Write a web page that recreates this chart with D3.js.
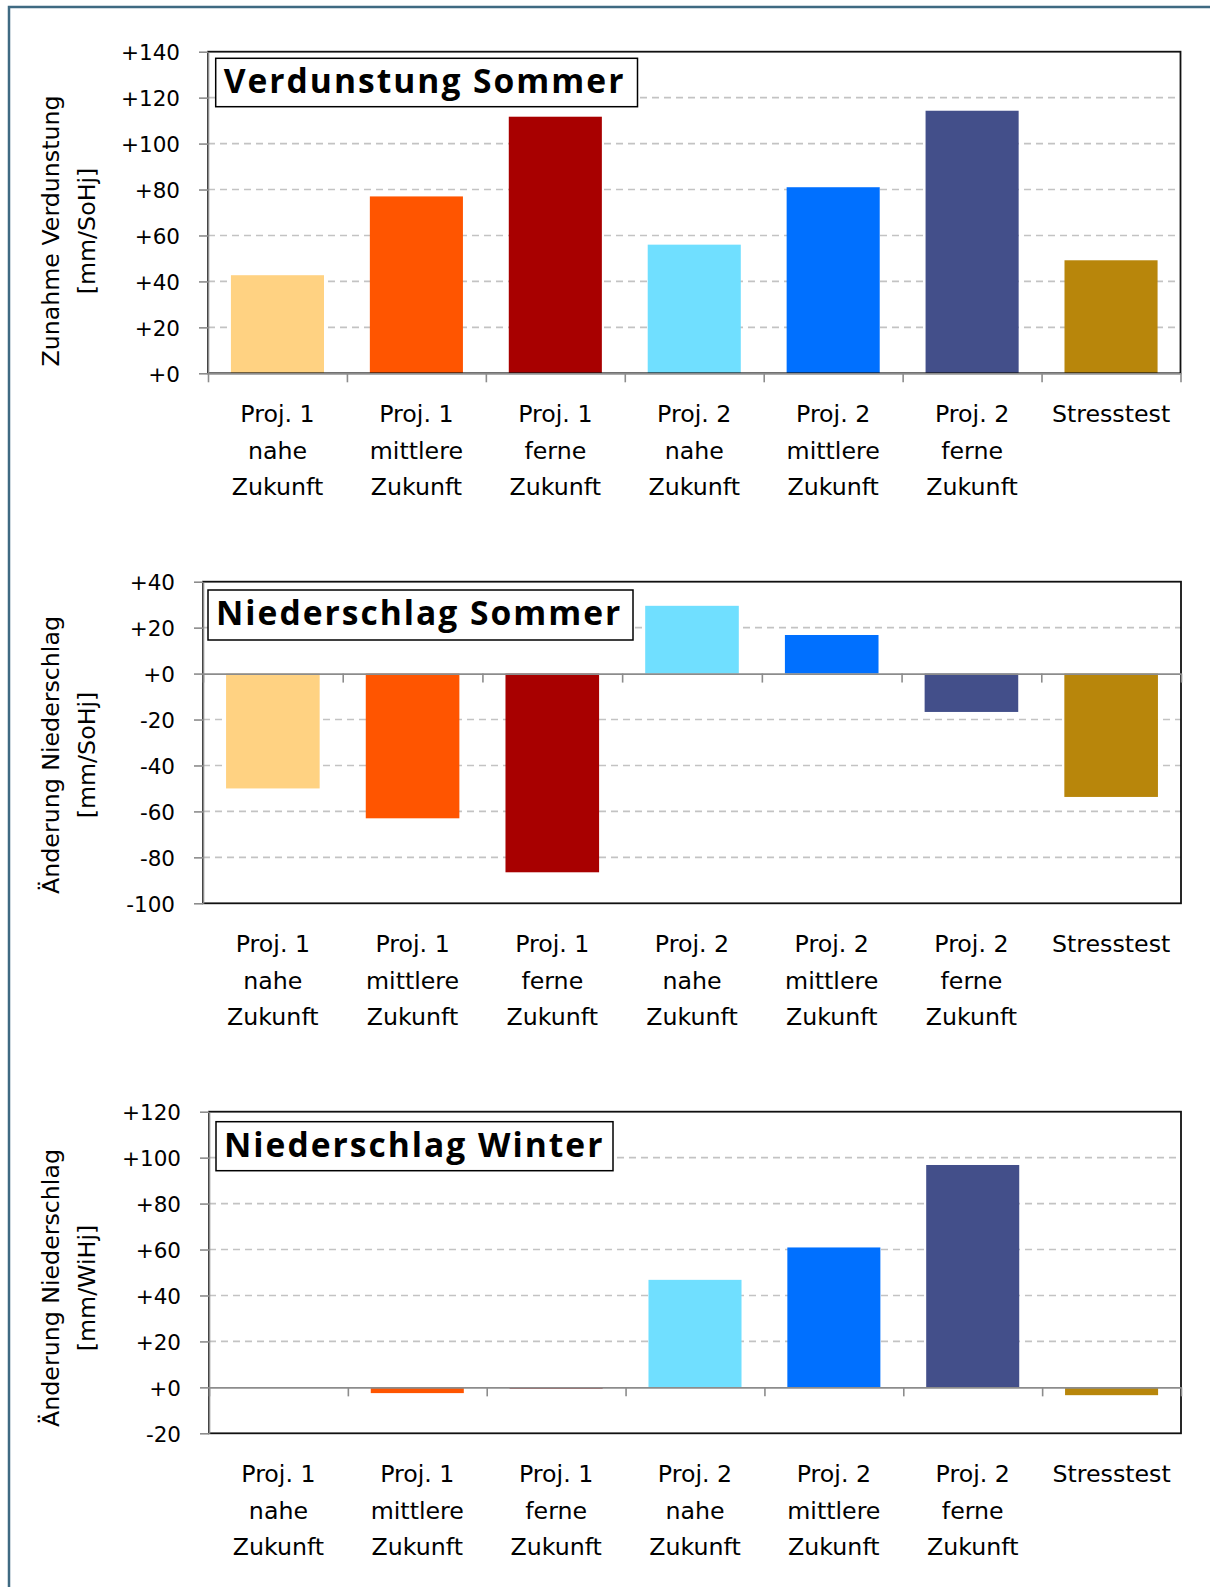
<!DOCTYPE html>
<html>
<head>
<meta charset="utf-8">
<script src="https://cdn.jsdelivr.net/npm/d3@7"></script>
<style>
  html, body { margin: 0; padding: 0; background: #fff; overflow: hidden; }
</style>
</head>
<body>
<script>
// categories (x axis, one line per array entry)
const categories = [
    ["Proj. 1", "nahe", "Zukunft"],
    ["Proj. 1", "mittlere", "Zukunft"],
    ["Proj. 1", "ferne", "Zukunft"],
    ["Proj. 2", "nahe", "Zukunft"],
    ["Proj. 2", "mittlere", "Zukunft"],
    ["Proj. 2", "ferne", "Zukunft"],
    ["Stresstest"]
];
const colors = ["#ffd282", "#ff5500", "#a80000", "#70dfff", "#0070ff", "#434f8a", "#b8860b"];

// series values
const verdunstungSommer = [42.7, 77, 111.7, 56, 81, 114.3, 49.2];
const niederschlagSommer = [-50, -63, -86.5, 29.5, 16.8, -16.7, -53.7];
const niederschlagWinter = [0, -2.5, -0.6, 46.8, 60.9, 96.8, -3.4];

// tick values
const ticksVerdunstung = [0, 20, 40, 60, 80, 100, 120, 140];
const ticksNsSommer = [-100, -80, -60, -40, -20, 0, 20, 40];
const ticksNsWinter = [-20, 0, 20, 40, 60, 80, 100, 120];

const width = 1210, height = 1587;
const svg = d3.select("body").append("svg")
    .attr("width", width)
    .attr("height", height);

// outer frame (left + top edges only visible)
svg.append("path")
    .attr("d", `M9,${height} V7 H${width}`)
    .attr("fill", "none")
    .attr("stroke", "#3f6a82")
    .attr("stroke-width", 2.5);

const charts = [
    {
        title: "Verdunstung Sommer", yTitle: ["Zunahme Verdunstung", "[mm/SoHj]"],
        values: verdunstungSommer, ticks: ticksVerdunstung, domain: [0, 140],
        left: 208, right: 1180.5, top: 51.7, bottom: 373.3,
        titleBox: {x: 215.7, y: 58.3, w: 421.8, h: 48.4}, yTitleCenter: 231
    },
    {
        title: "Niederschlag Sommer", yTitle: ["Änderung Niederschlag", "[mm/SoHj]"],
        values: niederschlagSommer, ticks: ticksNsSommer, domain: [-100, 40],
        left: 203, right: 1181, top: 581.7, bottom: 903.3,
        titleBox: {x: 208, y: 590, w: 425, h: 50}, yTitleCenter: 755
    },
    {
        title: "Niederschlag Winter", yTitle: ["Änderung Niederschlag", "[mm/WiHj]"],
        values: niederschlagWinter, ticks: ticksNsWinter, domain: [-20, 120],
        left: 209, right: 1181, top: 1111.7, bottom: 1433.3,
        titleBox: {x: 216, y: 1121.7, w: 397, h: 49}, yTitleCenter: 1288
    }
];

const fmt = d => (d > 0 || d === 0 ? "+" : "") + d;
const font = "'DejaVu Sans', sans-serif";

charts.forEach(drawChart);

function drawChart(c) {
    const y = d3.scaleLinear().domain(c.domain).range([c.bottom, c.top]);
    const x = d3.scaleBand()
        .domain(d3.range(categories.length))
        .range([c.left, c.right])
        .paddingInner(0.33)
        .paddingOuter(0.165);
    const xb = d3.scaleLinear().domain([0, categories.length]).range([c.left, c.right]);

    const g = svg.append("g");

    // dashed gridlines
    g.append("g")
        .selectAll("line")
        .data(c.ticks.filter(t => t !== 0 && t !== c.domain[0] && t !== c.domain[1]))
        .join("line")
        .attr("x1", c.left).attr("x2", c.right)
        .attr("y1", d => y(d)).attr("y2", d => y(d))
        .attr("stroke", "#c3c3c3")
        .attr("stroke-width", 1.6)
        .attr("stroke-dasharray", "7,5");

    // bars
    g.append("g")
        .selectAll("rect")
        .data(c.values)
        .join("rect")
        .attr("x", (d, i) => x(i))
        .attr("width", x.bandwidth())
        .attr("y", d => y(Math.max(0, d)))
        .attr("height", d => Math.abs(y(d) - y(0)))
        .attr("fill", (d, i) => colors[i]);

    // plot area border
    g.append("rect")
        .attr("x", c.left).attr("y", c.top)
        .attr("width", c.right - c.left).attr("height", c.bottom - c.top)
        .attr("fill", "none")
        .attr("stroke", "#111")
        .attr("stroke-width", 1.8);

    // y axis
    const yAxis = g.append("g")
        .attr("transform", `translate(${c.left},0)`)
        .call(d3.axisLeft(y).tickValues(c.ticks).tickSize(9).tickSizeOuter(0).tickPadding(19).tickFormat(fmt));
    yAxis.select(".domain").attr("stroke", "#8c8c8c").attr("stroke-width", 1.6);
    yAxis.selectAll(".tick line").attr("stroke", "#8c8c8c").attr("stroke-width", 1.6);
    yAxis.selectAll(".tick text")
        .attr("font-family", font)
        .attr("font-size", 21.5)
        .attr("fill", "#000")
        .attr("dy", "0.38em");

    // x axis at zero, ticks at category boundaries
    const xAxis = g.append("g")
        .attr("transform", `translate(0,${y(0)})`)
        .call(d3.axisBottom(xb).tickValues(d3.range(categories.length + 1)).tickSize(9).tickSizeOuter(0).tickFormat(""));
    xAxis.select(".domain").attr("stroke", "#8c8c8c").attr("stroke-width", 1.6);
    xAxis.selectAll(".tick line").attr("stroke", "#8c8c8c").attr("stroke-width", 1.6);

    // category labels below the plot
    const labels = g.append("g")
        .selectAll("text")
        .data(categories)
        .join("text")
        .attr("font-family", font)
        .attr("font-size", 23.7)
        .attr("fill", "#000")
        .attr("text-anchor", "middle")
        .attr("transform", (d, i) => `translate(${x(i) + x.bandwidth() / 2},${c.bottom + 48.5})`);
    labels.selectAll("tspan")
        .data(d => d)
        .join("tspan")
        .attr("x", 0)
        .attr("y", (d, i) => i * 36.8)
        .text(d => d);

    // y axis title (two lines, rotated)
    g.append("text")
        .attr("font-family", font)
        .attr("font-size", 23.7)
        .attr("fill", "#000")
        .attr("text-anchor", "middle")
        .attr("transform", `translate(59,${c.yTitleCenter}) rotate(-90)`)
        .selectAll("tspan")
        .data(c.yTitle)
        .join("tspan")
        .attr("x", 0)
        .attr("y", (d, i) => i * 36)
        .text(d => d);

    // chart title box
    const tb = c.titleBox;
    g.append("rect")
        .attr("x", tb.x).attr("y", tb.y)
        .attr("width", tb.w).attr("height", tb.h)
        .attr("fill", "#fff")
        .attr("stroke", "#000")
        .attr("stroke-width", 1.5);
    g.append("text")
        .attr("x", tb.x + 8)
        .attr("y", tb.y + 35)
        .attr("font-family", "'Open Sans', sans-serif")
        .attr("font-weight", "bold")
        .attr("font-size", 33.6)
        .attr("letter-spacing", 2)
        .attr("fill", "#000")
        .text(c.title);
}
</script>
</body>
</html>
